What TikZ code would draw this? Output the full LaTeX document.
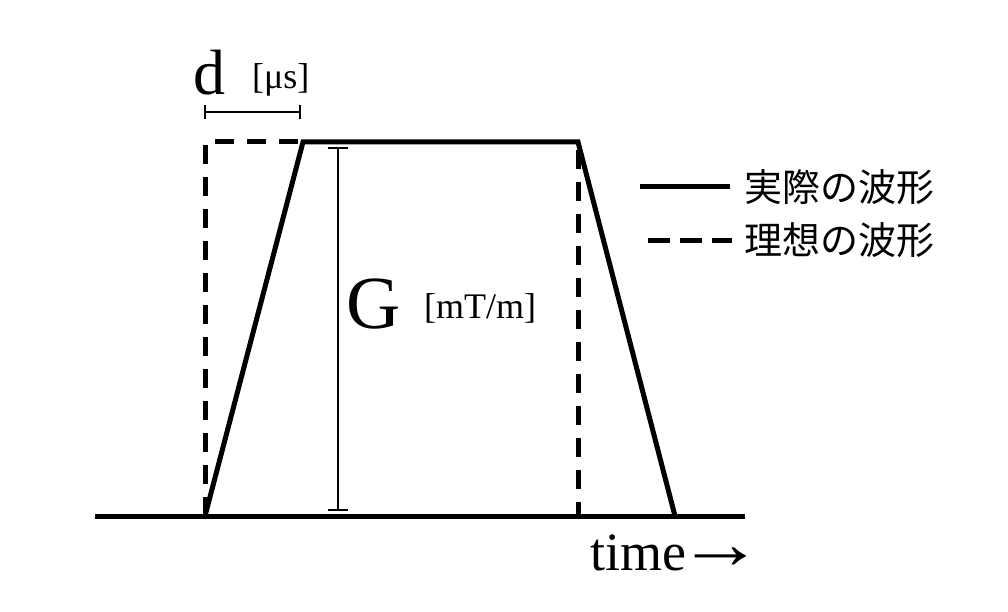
\documentclass[tikz,border=0pt]{standalone}
\usepackage{fontspec}
\setmainfont{Liberation Serif}
\newfontfamily\jpfont{Noto Sans CJK JP}
\begin{document}
\begin{tikzpicture}[x=1pt,y=-1pt,
  wave/.style={line width=5pt,line join=miter},
  idealwave/.style={line width=5pt,dash pattern=on 19pt off 13pt},
  legdash/.style={line width=5pt,dash pattern=on 22pt off 10pt},
  thin/.style={line width=2.2pt},
  lbl/.style={inner sep=0pt,anchor=base west},
  jp/.style={inner sep=0pt,anchor=west,font=\jpfont\fontsize{38}{42}\selectfont}]
\useasboundingbox (0,0) rectangle (1008,612);
% key points
\coordinate (b0) at (95,516);
\coordinate (b1) at (745,516);
\coordinate (s0) at (205,516);
\coordinate (s1) at (303,142);
\coordinate (s2) at (578,142);
\coordinate (s3) at (675,516);
\coordinate (i1) at (205,142);
\coordinate (r0) at (578,150);
\coordinate (r1) at (578,516);
% baseline
\draw[wave] (b0) -- (b1);
% actual waveform
\draw[wave] (s0) -- (s1) -- (s2) -- (s3);
% ideal waveform
\draw[idealwave] (s0) -- (i1) -- (s1);
\draw[idealwave] (r0) -- (r1);
% d bracket
\coordinate (d0) at (205,112);
\coordinate (d1) at (300,112);
\draw[thin] (d0) -- (d1);
\draw[thin] ([yshift=-7pt]d0) -- ([yshift=7pt]d0);
\draw[thin] ([yshift=-7pt]d1) -- ([yshift=7pt]d1);
\node[lbl,font=\fontsize{64}{70}\selectfont] (dlab) at (193,95) {d};
\node[lbl,font=\fontsize{36}{40}\selectfont] (dunit) at (252,89) {[μs]};
% G bracket
\coordinate (g0) at (338,148);
\coordinate (g1) at (338,510);
\draw[thin] (g0) -- (g1);
\draw[thin] ([xshift=-10pt]g0) -- ([xshift=10pt]g0);
\draw[thin] ([xshift=-10pt]g1) -- ([xshift=10pt]g1);
\node[lbl,font=\fontsize{75}{80}\selectfont] (glab) at (346,328) {G};
\node[lbl,font=\fontsize{36}{40}\selectfont] (gunit) at (424,318) {[mT/m]};
% time label
\node[lbl,font=\fontsize{54}{60}\selectfont] (tlab) at (590,570) {time\kern-9pt\raisebox{2pt}{\scalebox{1.6}[1.35]{→}}};
% legend
\coordinate (l0) at (640,187);
\coordinate (l1) at (730,187);
\coordinate (m0) at (648,240);
\coordinate (m1) at (732,240);
\draw[wave] (l0) -- (l1);
\draw[legdash] (m0) -- (m1);
\node[jp] (leg1) at (744,187) {実際の波形};
\node[jp] (leg2) at (744,240) {理想の波形};
\end{tikzpicture}
\end{document}
